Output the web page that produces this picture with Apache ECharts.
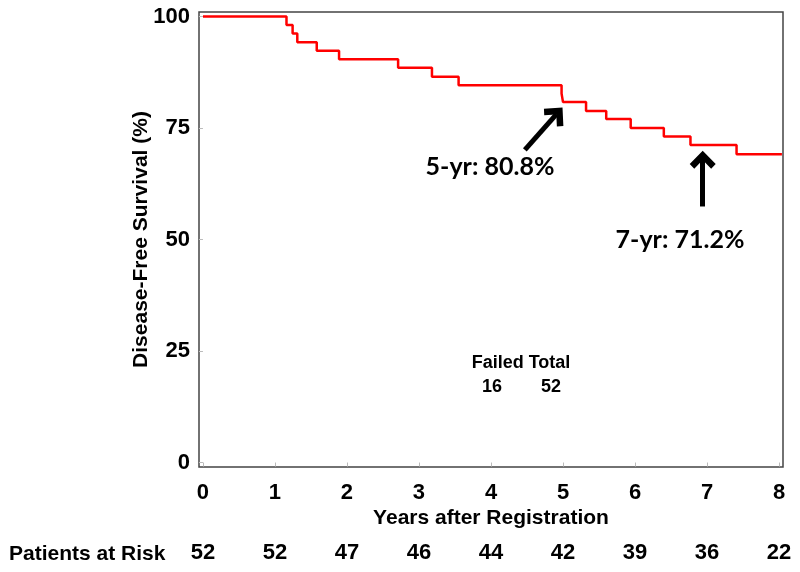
<!DOCTYPE html>
<html>
<head>
<meta charset="utf-8">
<script src="https://cdn.jsdelivr.net/npm/echarts@6/dist/echarts.min.js"></script>
<style>
html,body{margin:0;padding:0;background:#fff;}
#main{width:800px;height:572px;}
</style>
</head>
<body>
<div id="main"></div>
<script>
// Kaplan-Meier step points: time (years) and survival (%)
var stepYears = [0, 1.16, 1.245, 1.31, 1.58, 1.89, 2.71, 3.18, 3.55, 4.98, 5.0, 5.32, 5.6, 5.94, 6.40, 6.77, 7.41, 8.04];
var survival  = [100, 98.1, 96.2, 94.2, 92.3, 90.4, 88.5, 86.5, 84.6, 82.7, 80.8, 78.8, 77.0, 75.0, 73.1, 71.2, 69.1, 69.1];

var yearTicks = [0, 1, 2, 3, 4, 5, 6, 7, 8];
var atRisk = [52, 52, 47, 46, 44, 42, 39, 36, 22];
var survTicks = [0, 25, 50, 75, 100];

// annotation arrows: [tail, head] in (years, %)
var arrow5 = [[4.47, 70.1], [4.91, 78.1]];
var arrow7 = [[6.94, 57.4], [6.94, 67.9]];

var chart = echarts.init(document.getElementById('main'));

var kmData = stepYears.map(function (t, i) { return [t, survival[i]]; });

var boldFont = 'Liberation Sans, Arial, sans-serif';
var chevron = 'path://M10,0 L20,10 L16.5,13.5 L10,7 L3.5,13.5 L0,10 Z';

var option = {
    animation: false,
    grid: {
        left: 199, right: 17, top: 12, bottom: 105,
        show: true, borderColor: '#444', borderWidth: 1.5, backgroundColor: 'transparent'
    },
    xAxis: [
        {
            type: 'value', min: -0.055, max: 8.055,
            splitLine: { show: false },
            axisLine: { show: false },
            axisTick: { show: true, customValues: yearTicks, length: 4, lineStyle: { color: '#bbb' } },
            axisLabel: {
                customValues: yearTicks, margin: 15,
                fontFamily: boldFont, fontWeight: 'bold', fontSize: 22, color: '#000'
            },
            name: 'Years after Registration', nameLocation: 'middle', nameGap: 41, nameMoveOverlap: false,
            nameTextStyle: { fontFamily: boldFont, fontWeight: 'bold', fontSize: 21, color: '#000' }
        },
        {
            type: 'value', min: -0.055, max: 8.055, position: 'bottom', offset: 70,
            splitLine: { show: false },
            axisLine: { show: false }, axisTick: { show: false },
            axisLabel: {
                customValues: yearTicks, margin: 5,
                formatter: function (v) { return String(atRisk[Math.round(v)]); },
                fontFamily: boldFont, fontWeight: 'bold', fontSize: 22, color: '#000'
            }
        }
    ],
    yAxis: {
        type: 'value', min: -1, max: 101,
        splitLine: { show: false },
        axisLine: { show: false },
        axisTick: { show: true, customValues: survTicks, length: 4, lineStyle: { color: '#bbb' } },
        axisLabel: {
            customValues: survTicks, margin: 9,
            fontFamily: boldFont, fontWeight: 'bold', fontSize: 22, color: '#000'
        },
        name: 'Disease-Free Survival (%)', nameLocation: 'middle', nameGap: 47, nameMoveOverlap: false,
        nameTextStyle: { fontFamily: boldFont, fontWeight: 'bold', fontSize: 21, color: '#000' }
    },
    series: [
        {
            type: 'line', step: 'end', data: kmData,
            showSymbol: false, symbol: 'none',
            lineStyle: { color: '#ff0000', width: 2.5 },
            markLine: {
                silent: true,
                symbol: ['none', chevron], symbolSize: [26, 18],
                label: { show: false },
                lineStyle: { color: '#000', width: 5, type: 'solid' },
                data: [
                    [{ coord: arrow5[0] }, { coord: arrow5[1] }],
                    [{ coord: arrow7[0] }, { coord: arrow7[1] }]
                ]
            }
        }
    ],
    graphic: [
        { type: 'text', x: 9, y: 554, style: { text: 'Patients at Risk', font: 'bold 21px ' + boldFont, fill: '#000', verticalAlign: 'middle' } },
        { type: 'text', x: 490, y: 167, style: { text: '5-yr: 80.8%', font: 'bold 25px Lato, sans-serif', fill: '#000', align: 'center', verticalAlign: 'middle' } },
        { type: 'text', x: 680, y: 240, style: { text: '7-yr: 71.2%', font: 'bold 25px Lato, sans-serif', fill: '#000', align: 'center', verticalAlign: 'middle' } },
        { type: 'text', x: 521, y: 363, style: { text: 'Failed Total', font: 'bold 18px ' + boldFont, fill: '#000', align: 'center', verticalAlign: 'middle' } },
        { type: 'text', x: 492, y: 387, style: { text: '16', font: 'bold 18px ' + boldFont, fill: '#000', align: 'center', verticalAlign: 'middle' } },
        { type: 'text', x: 551, y: 387, style: { text: '52', font: 'bold 18px ' + boldFont, fill: '#000', align: 'center', verticalAlign: 'middle' } }
    ]
};
chart.setOption(option);
</script>
</body>
</html>
